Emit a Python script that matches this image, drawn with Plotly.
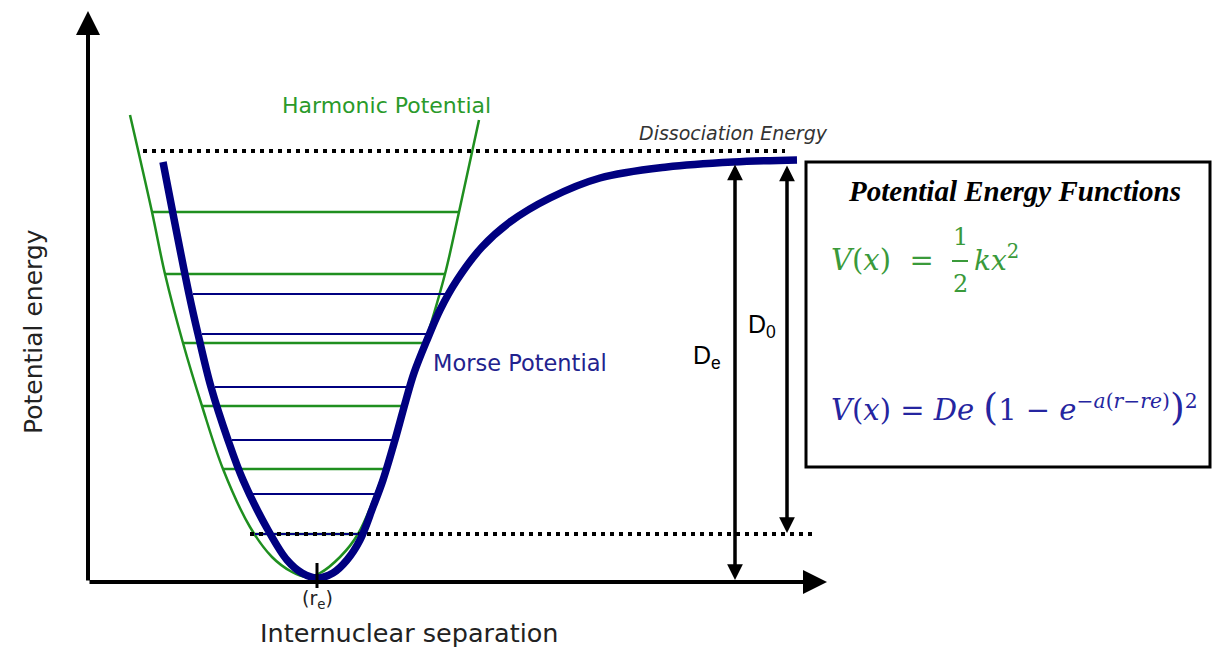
import plotly.graph_objects as go

# ---- data (figure units; y grows downward) ----
harm_r = [130, 152, 165, 183, 202, 223, 250, 272, 292, 306, 320, 340, 358, 385, 404, 425, 445, 459, 479]
harm_V = [115, 212, 274, 343, 406, 469, 527, 557, 572, 577, 573, 557, 534, 469, 406, 343, 274, 212, 120]

morse_r = [163, 189, 198, 211, 228, 243, 268, 287, 302, 317, 333, 347, 360, 373, 383, 395, 406, 414,
           427, 440, 457, 482, 510, 550, 600, 667, 733, 797]
morse_V = [162, 294, 334, 387, 440, 480, 530, 560, 573, 578, 573, 560, 540, 507, 480, 440, 400, 373,
           340, 310, 280, 247, 222, 198, 178, 167, 162, 160]

green_lvl_V = [212, 274, 343, 406, 469, 534]
green_lvl_r0 = [152, 165, 183, 202, 223, 250]
green_lvl_r1 = [459, 445, 425, 404, 385, 358]

blue_lvl_V = [294, 334, 387, 440, 494, 534]
blue_lvl_r0 = [193, 202, 215, 232, 252, 255]
blue_lvl_r1 = [450, 428, 410, 395, 377, 358]

diss_V = 151          # dissociation energy level
diss_r = [143, 785]
zero_V = 534          # zero-point level
zero_r = [250, 812]

r_e = 317
axis_origin = (88, 582)
axis_ends = (827, 11)
De_r, De_top, De_bot = 735, 163, 580
D0_r, D0_top, D0_bot = 787, 164, 533

GREEN = "#1f8f1f"
NAVY = "#000080"
GREEN_TXT = "#2a9a2a"
NAVY_TXT = "#22228e"
FORM_GREEN = "#3a9a3a"
FORM_BLUE = "#2525a0"

fig = go.Figure()

# harmonic curve
fig.add_trace(go.Scatter(x=harm_r, y=harm_V, mode="lines",
                         line=dict(color=GREEN, width=2.5, shape="spline", smoothing=1),
                         hoverinfo="skip"))
# harmonic levels
for V, a, b in zip(green_lvl_V, green_lvl_r0, green_lvl_r1):
    fig.add_trace(go.Scatter(x=[a, b], y=[V, V], mode="lines",
                             line=dict(color=GREEN, width=2.5), hoverinfo="skip"))
# morse levels
for V, a, b in zip(blue_lvl_V, blue_lvl_r0, blue_lvl_r1):
    fig.add_trace(go.Scatter(x=[a, b], y=[V, V], mode="lines",
                             line=dict(color=NAVY, width=2), hoverinfo="skip"))
# dotted lines
for rr, V in [(diss_r, diss_V), (zero_r, zero_V)]:
    fig.add_trace(go.Scatter(x=rr, y=[V, V], mode="lines",
                             line=dict(color="black", width=4, dash="4px,5px"), hoverinfo="skip"))
# morse curve
fig.add_trace(go.Scatter(x=morse_r, y=morse_V, mode="lines",
                         line=dict(color=NAVY, width=7.5, shape="spline", smoothing=1),
                         hoverinfo="skip"))

# r_e tick
fig.add_shape(type="line", x0=r_e, x1=r_e, y0=563, y1=588, line=dict(color="black", width=3))

# box
fig.add_shape(type="rect", x0=806, x1=1210, y0=162, y1=467, line=dict(color="black", width=3))
# fraction bar
fig.add_shape(type="line", x0=952, x1=968, y0=261, y1=261, line=dict(color=FORM_GREEN, width=2))

ann = []
# axes arrows
ox, oy = axis_origin
ann.append(dict(x=ox, y=axis_ends[1], ax=ox, ay=oy, axref="x", ayref="y", xref="x", yref="y",
                text="", showarrow=True, arrowhead=2, arrowsize=1.2, arrowwidth=4, arrowcolor="black"))
ann.append(dict(x=axis_ends[0], y=oy, ax=ox, ay=oy, axref="x", ayref="y", xref="x", yref="y",
                text="", showarrow=True, arrowhead=2, arrowsize=1.2, arrowwidth=4, arrowcolor="black"))
# De / D0 arrows
for rr, top, bot in [(De_r, De_top, De_bot), (D0_r, D0_top, D0_bot)]:
    ann.append(dict(x=rr, y=bot, ax=rr, ay=top, axref="x", ayref="y", xref="x", yref="y",
                    text="", showarrow=True, arrowhead=2, arrowsize=0.9, arrowwidth=3.5,
                    startarrowhead=2, startarrowsize=0.9, arrowside="end+start", arrowcolor="black"))

def txt(x, y, t, size, color, family="DejaVu Sans", xanchor="center", angle=0):
    ann.append(dict(x=x, y=y, xref="x", yref="y", text=t, showarrow=False, xanchor=xanchor,
                    yanchor="middle", textangle=angle,
                    font=dict(size=size, color=color, family=family)))

txt(33, 332, "Potential energy", 25, "#222222", angle=-90)
txt(409, 633, "Internuclear separation", 25.5, "#222222")
txt(317, 599, "(r<sub>e</sub>)", 19, "#222222")
txt(386, 105, "Harmonic Potential", 22, GREEN_TXT)
txt(520, 363, "Morse Potential", 22.5, NAVY_TXT)
txt(733, 133, "<i>Dissociation Energy</i>", 19, "#333333")
txt(707, 357, "D<sub>e</sub>", 25, "black", family="Liberation Sans")
txt(762, 326, "D<sub>0</sub>", 25, "black", family="Liberation Sans")
txt(1014, 191, "<b><i>Potential Energy Functions</i></b>", 29, "black", family="Liberation Serif")

FF = "DejaVu Serif"
txt(829, 260, "<i>V</i>(<i>x</i>)  =", 29, FORM_GREEN, family=FF, xanchor="left")
txt(960, 237, "1", 24, FORM_GREEN, family=FF)
txt(960, 284, "2", 24, FORM_GREEN, family=FF)
txt(972, 258, "<i>kx</i><sup>2</sup>", 28, FORM_GREEN, family=FF, xanchor="left")
txt(829, 407,
    "<i>V</i>(<i>x</i>) = <i>De</i> <span style=\"font-size:38px\">(</span>1 − <i>e</i>"
    "<sup>−<i>a</i>(<i>r</i>−<i>re</i>)</sup><span style=\"font-size:38px\">)</span><sup>2</sup>",
    29, FORM_BLUE, family=FF, xanchor="left")

fig.update_layout(
    width=1212, height=647, margin=dict(l=0, r=0, t=0, b=0),
    paper_bgcolor="white", plot_bgcolor="white", showlegend=False,
    xaxis=dict(range=[0, 1212], visible=False, fixedrange=True),
    yaxis=dict(range=[647, 0], visible=False, fixedrange=True),
    annotations=ann,
)

fig.write_html("out.html", config={"displayModeBar": False},
               post_script="document.body.style.margin='0';document.body.style.overflow='hidden';")
